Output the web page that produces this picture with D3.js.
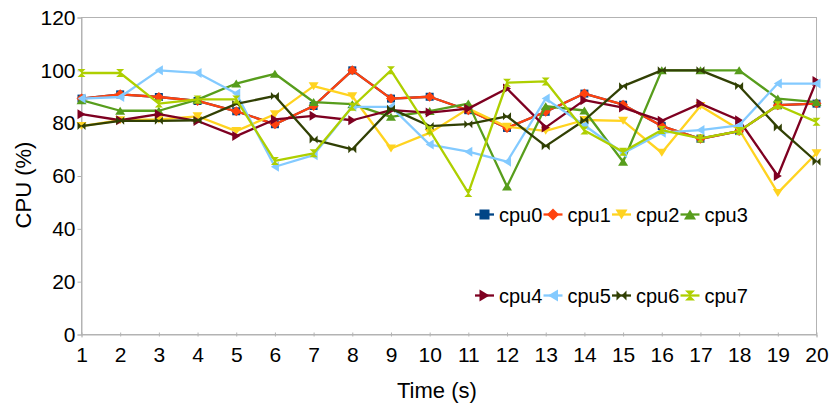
<!DOCTYPE html>
<html><head><meta charset="utf-8">
<script src="https://cdn.jsdelivr.net/npm/d3@7"></script>
<style>body{margin:0;background:#fff}svg{display:block}text{font-family:"Liberation Sans",Arial,sans-serif;fill:#000}</style>
</head><body><svg id="c" width="829" height="407"></svg>
<script>
const times = d3.range(1, 21);
const seriesNames = ["cpu0","cpu1","cpu2","cpu3","cpu4","cpu5","cpu6","cpu7"];
const cpu0 = [89.3,90.9,89.9,88.4,84.5,79.6,86.5,100,89.3,90,84.9,78.2,84.3,91.2,87,78.9,74.1,77,86.8,87.4];
const cpu1 = [89.3,90.9,89.9,88.4,84.5,79.6,86.5,100,89.3,90,84.9,78.2,84.3,91.2,87,78.9,74.1,77,86.8,87.4];
const cpu2 = [78.9,81.1,81.4,82.6,77,83.4,94,90.2,70.4,76.3,85.5,78.6,77.1,81.2,80.9,68.8,86.5,77.6,53.6,68.6];
const cpu3 = [88.7,84.7,84.7,88.9,95,98.7,88,87.2,82.4,84.6,87.4,56,86.4,84.8,65.4,100,100,100,89.3,88];
const cpu4 = [83.4,81.1,83.4,80.8,75.1,81.4,82.8,81.1,84.9,84,85.5,93.1,78.4,88.7,85.9,80.9,87.4,81.1,60,96];
const cpu5 = [89.3,89.9,100,99,91.2,63.5,67.9,86.2,86.2,71.9,69.2,65.4,89.3,79.2,68.6,76.4,77.4,79.2,95,95];
const cpu6 = [78.9,80.9,80.9,81.1,87.3,90.3,73.8,70.1,85.5,78.9,79.6,82.6,71.3,81.1,94,100,100,94.1,78.4,65.4];
const cpu7 = [99,99,87.4,89,89,65.7,68.6,86.2,100,77.3,53.6,95.3,95.8,77.2,69.2,77.4,74.2,77,86.8,80.5];
const yTicks = [0,20,40,60,80,100,120];
const colors = ["#004586","#ff420e","#ffd320","#579d1c","#7e0021","#83caff","#314004","#aecf00"];
const shapes = ["square","diamond","down","up","right","left","bowtie","hourglass"];
const allValues = [cpu0,cpu1,cpu2,cpu3,cpu4,cpu5,cpu6,cpu7];

const svg = d3.select("#c");
svg.append("rect").attr("width",829).attr("height",407).attr("fill","#fff");
const x = d3.scaleLinear().domain([1,20]).range([81.5,816.5]);
const y = d3.scaleLinear().domain([0,120]).range([334.5,17.5]);
const axisCol = "#b3b3b3";

// frame
svg.append("rect").attr("x",x(1)).attr("y",y(120)).attr("width",x(20)-x(1)).attr("height",y(0)-y(120))
  .attr("fill","none").attr("stroke",axisCol).attr("stroke-width",1);

const ya = svg.append("g").attr("transform",`translate(${x(1)},0)`)
  .call(d3.axisLeft(y).tickValues(yTicks).tickSize(4).tickPadding(2).tickFormat(d3.format("d")));
ya.select(".domain").attr("stroke",axisCol);
ya.selectAll(".tick line").attr("stroke",axisCol);
ya.selectAll("text").style("font-size","21px").attr("fill","#000");

const xa = svg.append("g").attr("transform",`translate(0,${y(0)})`)
  .call(d3.axisBottom(x).tickValues(times).tickSize(3).tickPadding(10).tickFormat(d3.format("d")));
xa.select(".domain").attr("stroke",axisCol);
xa.selectAll(".tick line").attr("stroke",axisCol).attr("y1",-2).attr("y2",2);
xa.selectAll("text").style("font-size","21px").attr("fill","#000");

svg.append("text").attr("x",397).attr("y",398).style("font-size","22px").text("Time (s)");
svg.append("text").attr("transform","translate(31,185) rotate(-90)").attr("text-anchor","middle")
  .style("font-size","22px").text("CPU (%)");

function markerPath(shape, s){
  switch(shape){
    case "square": return `M${-s},${-s}H${s}V${s}H${-s}Z`;
    case "diamond": return `M0,${-s-1}L${s+1},0L0,${s+1}L${-s-1},0Z`;
    case "down": return `M${-s-1},${-s}L${s+1},${-s}L0,${s}Z`;
    case "up": return `M${-s-1},${s}L${s+1},${s}L0,${-s}Z`;
    case "right": return `M${-s},${-s-1}L${s},0L${-s},${s+1}Z`;
    case "left": return `M${s},${-s-1}L${-s},0L${s},${s+1}Z`;
    case "bowtie": return `M${-s},${-s}L0,0L${-s},${s}Z M${s},${-s}L0,0L${s},${s}Z`;
    case "hourglass": return `M${-s},${-s}L${s},${-s}L0,0Z M${-s},${s}L${s},${s}L0,0Z`;
  }
}

const line = d3.line().x((d,i)=>x(times[i])).y(d=>y(d));
const plot = svg.append("g");
allValues.forEach((vals,k)=>{
  const g = plot.append("g");
  g.append("path").datum(vals).attr("d",line).attr("fill","none").attr("stroke",colors[k])
    .attr("stroke-width",2.3).attr("stroke-linejoin","round");
  g.selectAll("path.m").data(vals).enter().append("path").attr("class","m")
    .attr("transform",(d,i)=>`translate(${x(times[i])},${y(d)})`)
    .attr("d",markerPath(shapes[k],4)).attr("fill",colors[k]);
});

// legend
const legend = svg.append("g");
seriesNames.forEach((name,k)=>{
  const row = Math.floor(k/4), col = k%4;
  const lx = 475 + col*68.5, ly = row===0 ? 214.5 : 295.5;
  const g = legend.append("g").attr("transform",`translate(${lx},${ly})`);
  g.append("line").attr("x1",0).attr("x2",19).attr("stroke",colors[k]).attr("stroke-width",2.3);
  g.append("path").attr("transform","translate(9.5,0)").attr("d",markerPath(shapes[k],5)).attr("fill",colors[k]);
  g.append("text").attr("x",24).attr("y",7.5).style("font-size","20px").text(name);
});
</script></body></html>
